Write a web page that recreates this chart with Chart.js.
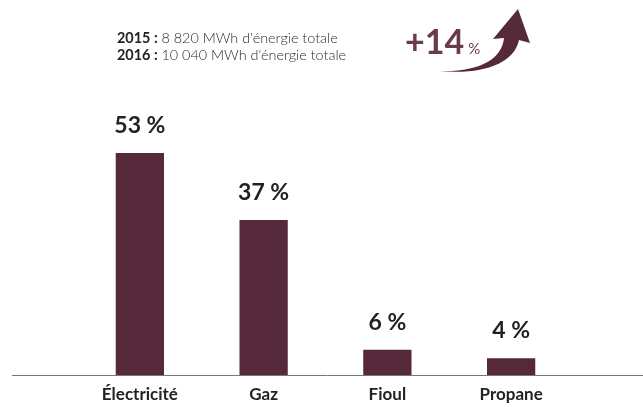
<!DOCTYPE html>
<html lang="fr">
<head>
<meta charset="utf-8">
<title>Répartition de l'énergie</title>
<script src="https://cdn.jsdelivr.net/npm/chart.js@4.4.1/dist/chart.umd.min.js"></script>
<style>
  html, body { margin: 0; padding: 0; background: #fff; }
  #wrap { position: relative; width: 643px; height: 407px; overflow: hidden; }
  #graph { position: absolute; left: 0; top: 0; }
  .totaux {
    position: absolute; left: 117px; top: 29px;
    font-family: Lato, sans-serif; font-weight: 300; font-size: 14.4px; line-height: 17px; color: #2a2a2a;
  }
  .totaux b { color: #222; font-weight: 700; }
  .hausse {
    position: absolute; left: 405px; top: 23px;
    font-family: Lato, sans-serif; font-weight: 700; color: #6b3a4c;
    font-size: 34px; line-height: 36px; white-space: nowrap;
  }
  .hausse small { font-size: 15px; font-weight: 400; margin-left: 4px; }
  #fleche { position: absolute; left: 430px; top: 4px; }
</style>
</head>
<body>
<div id="wrap">
  <canvas id="graph" width="643" height="407"></canvas>
  <div class="totaux">
    <div><b>2015 :</b> 8 820 MWh d'énergie totale</div>
    <div><b>2016 :</b> 10 040 MWh d'énergie totale</div>
  </div>
  <div class="hausse">+14<small>%</small></div>
  <svg id="fleche" width="105" height="74" viewBox="430 4 105 74">
    <path d="M440 71 C 482 72, 502 58, 504 38 L 493 39 L 518 9 L 530 43 L 519 40 C 514 64, 482 75, 440 71 Z" fill="#55283a"/>
  </svg>
</div>

<script>
// --- DONNÉES ---
const sources = ['Électricité', 'Gaz', 'Fioul', 'Propane'];
const parts = [53, 37, 6, 4];

const couleurBarre = '#55283a';
const couleurTexte = '#222222';

// ligne de base sous les barres, plus large que la zone du graphique
const ligneBase = {
  id: 'ligneBase',
  afterDatasetsDraw(chart) {
    const { ctx, chartArea } = chart;
    ctx.save();
    ctx.strokeStyle = '#777';
    ctx.lineWidth = 1;
    ctx.beginPath();
    ctx.moveTo(12, Math.round(chartArea.bottom) + 0.5);
    ctx.lineTo(chart.width, Math.round(chartArea.bottom) + 0.5);
    ctx.stroke();
    ctx.restore();
  }
};

// pourcentages au-dessus de chaque barre
const etiquettes = {
  id: 'etiquettes',
  afterDatasetsDraw(chart) {
    const { ctx } = chart;
    const meta = chart.getDatasetMeta(0);
    ctx.save();
    ctx.font = 'bold 23px Lato, sans-serif';
    ctx.fillStyle = couleurTexte;
    ctx.textAlign = 'center';
    ctx.textBaseline = 'alphabetic';
    meta.data.forEach((barre, i) => {
      ctx.fillText(parts[i] + ' %', barre.x, barre.y - 20);
    });
    ctx.restore();
  }
};

const ctx = document.getElementById('graph').getContext('2d');
new Chart(ctx, {
  type: 'bar',
  data: {
    labels: sources,
    datasets: [{
      data: parts,
      backgroundColor: couleurBarre,
      borderWidth: 0,
      barPercentage: 0.39,
      categoryPercentage: 1
    }]
  },
  options: {
    responsive: false,
    animation: false,
    layout: { padding: { left: 78, right: 70, top: 123.6, bottom: 1 } },
    scales: {
      x: {
        grid: { display: false },
        border: { display: false },
        afterFit(scale) { scale.height = 31; },
        ticks: {
          padding: 1,
          color: couleurTexte,
          font: { family: 'Lato, sans-serif', size: 17, weight: 'bold' }
        }
      },
      y: { display: false, min: 0, max: 60 }
    },
    plugins: {
      legend: { display: false },
      tooltip: { enabled: false }
    }
  },
  plugins: [ligneBase, etiquettes]
});
</script>
</body>
</html>
